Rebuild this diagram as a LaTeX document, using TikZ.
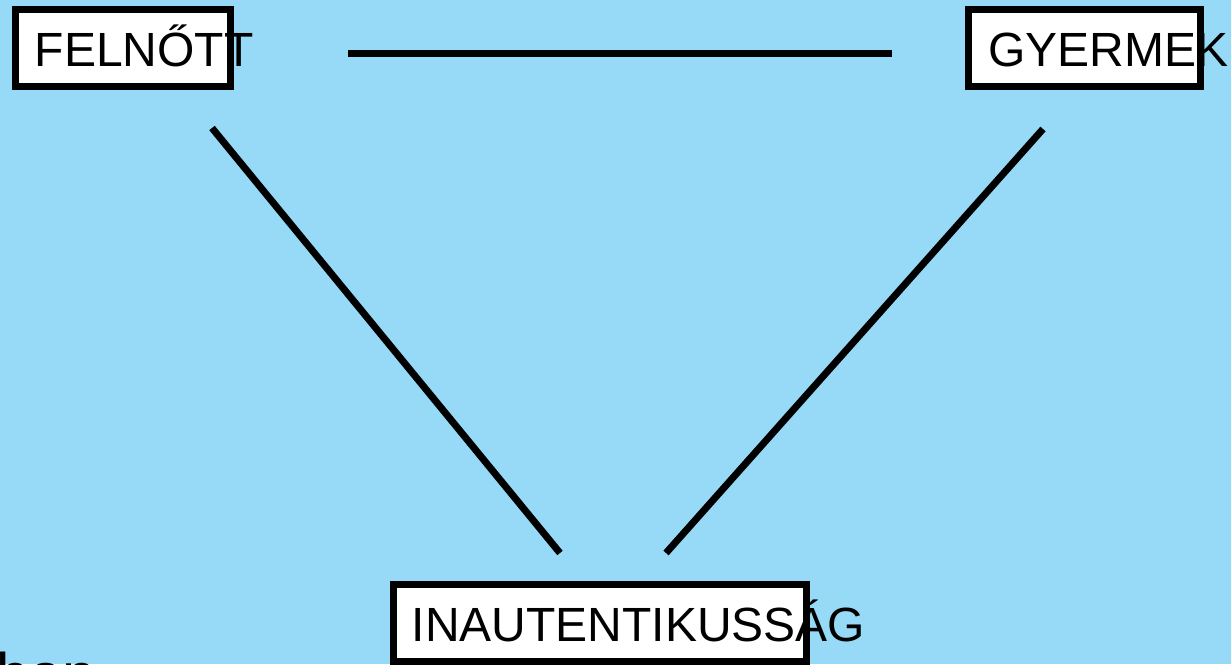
\documentclass[tikz,border=0pt]{standalone}
\usepackage{fontspec}
\setmainfont{Liberation Sans}
\definecolor{bgblue}{RGB}{150,218,247}
\begin{document}
\begin{tikzpicture}[x=1pt,y=-1pt,
  boxnode/.style={draw=black,fill=white,line width=7pt,inner sep=0pt,minimum height=77pt},
  label/.style={anchor=base west,inner sep=0pt,font=\fontsize{48}{48}\selectfont},
  link/.style={line width=7pt}]
\useasboundingbox (0,0) rectangle (1231,664);
\clip (0,0) rectangle (1231,664);
\fill[bgblue] (0,0) rectangle (1231,664);
% boxes
\node[boxnode,minimum width=215pt] (felbox) at (123,47.5) {};
\node[boxnode,minimum width=232pt] (gyebox) at (1084,47.5) {};
\node[boxnode,minimum width=412.5pt] (inabox) at (599.75,622.5) {};
% texts
\node[label] (feltext) at (34.5,66) {FELNŐTT};
\node[label] (gyetext) at (988,66) {GYERMEK};
\node[label] (inatext) at (411.5,641) {INAUTENTIKUSSÁG};
\node[anchor=base west,inner sep=0pt,font=\fontsize{60}{60}\selectfont] (ban) at (-4,695) {ban};
% connector ends
\coordinate (h1) at (348,53);
\coordinate (h2) at (892,53);
\coordinate (l1) at (212,128);
\coordinate (l2) at (560,553);
\coordinate (r1) at (1043,129);
\coordinate (r2) at (666,553);
\draw[link] (h1) -- (h2);
\draw[link] (l1) -- (l2);
\draw[link] (r1) -- (r2);
\end{tikzpicture}
\end{document}
